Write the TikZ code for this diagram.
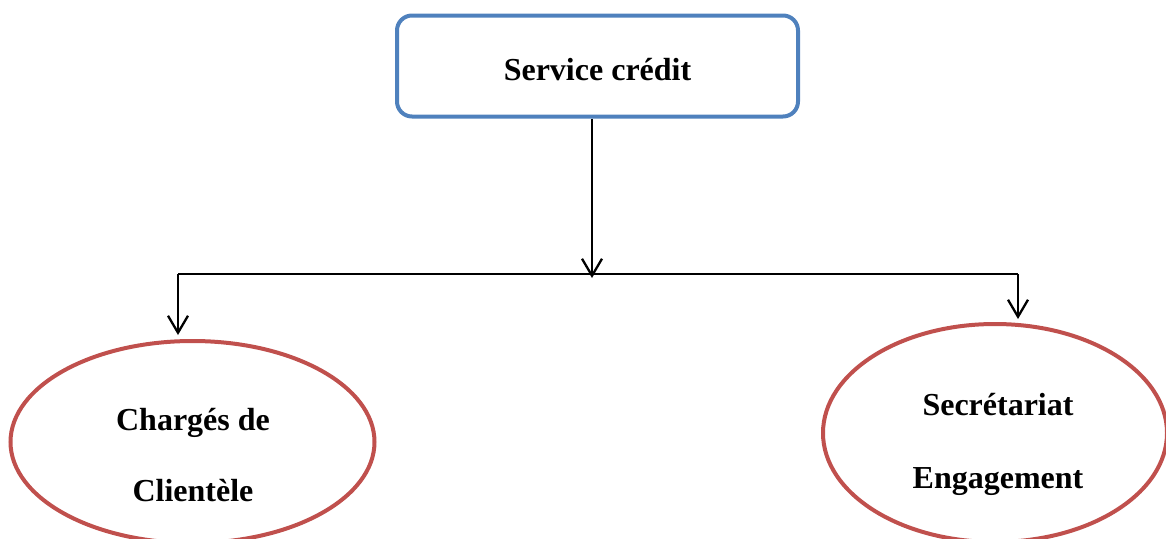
\documentclass[tikz,border=0pt]{standalone}
\usepackage{fontspec}
\setmainfont{Liberation Serif}
\usetikzlibrary{arrows.meta}

\definecolor{boxblue}{HTML}{4F81BD}
\definecolor{ovalred}{HTML}{C0504D}

\tikzset{
    headbox/.style={draw=boxblue, line width=4pt, rounded corners=15pt,
        minimum width=401pt, minimum height=101pt},
    ovalbox/.style={ellipse, draw=ovalred, line width=4pt},
    ovaltext/.style={align=center, font=\fontsize{32}{71}\selectfont\bfseries},
    link/.style={line width=2.3pt, -{Straight Barb[length=17pt,width=20pt,line width=2.3pt]}},
}
\usetikzlibrary{shapes.geometric}

\begin{document}
\begin{tikzpicture}[
            x=1pt, y=-1pt,
        ]
            \useasboundingbox (0, 0) rectangle (1166, 538);
            \node[headbox, text height=28pt, text depth=0pt, font=\fontsize{32}{38}\selectfont\bfseries] (service) at (597.5, 66) {Service crédit};
            \node[ovalbox, minimum width=364pt, minimum height=202pt] (charges) at (192.5, 442) {};
            \node[ovalbox, minimum width=344pt, minimum height=218pt] (secretariat) at (995, 433) {};
            \node[ovaltext] (chargestext) at (193, 455) {Chargés de\\Clientèle};
            \node[ovaltext, font=\fontsize{32}{73}\selectfont\bfseries] (secretariattext) at (998, 444) {Secrétariat\\Engagement};
            \coordinate (split) at (592, 274);
            \coordinate (leftturn) at (178, 274);
            \coordinate (rightturn) at (1018, 274);
            \draw[link] (service.south -| split) -- ([yshift=-4pt]split);
            \draw[line width=2.3pt] (leftturn) -- (rightturn);
            \draw[link, shorten >=4pt] (leftturn) -- (leftturn |- charges.north);
            \draw[link, shorten >=3pt] (rightturn) -- (rightturn |- secretariat.north);
        \end{tikzpicture}
\end{document}
